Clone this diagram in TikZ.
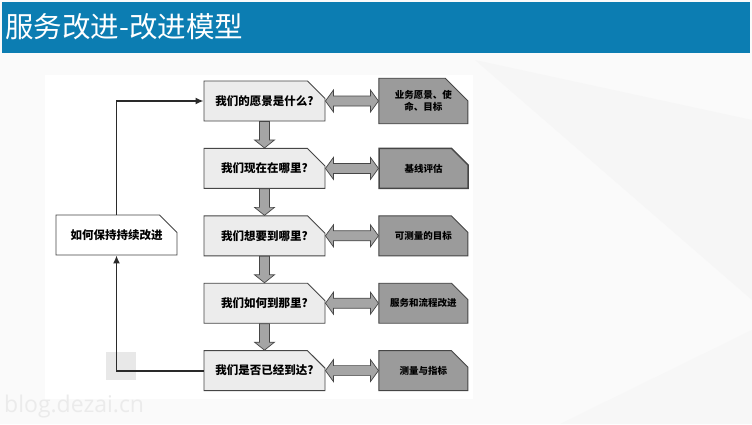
\documentclass[tikz,border=0pt]{standalone}
\usepackage{fontspec}
\newfontfamily\cjk{Noto Sans CJK SC}
\newfontfamily\wmfont{Open Sans}
\usetikzlibrary{positioning,calc,shapes.misc,arrows.meta}

\definecolor{titleblue}{RGB}{12,125,178}
\definecolor{boxgray}{RGB}{236,236,236}
\definecolor{darkbox}{RGB}{155,155,155}
\definecolor{arrowgray}{RGB}{165,165,165}
\definecolor{linegray}{RGB}{70,70,70}

\tikzset{
  question/.style={chamfered rectangle, chamfered rectangle corners=north east,
    chamfered rectangle xsep=12pt, chamfered rectangle ysep=12pt,
    draw=linegray, line width=0.9pt, fill=boxgray, minimum width=121pt,
    minimum height=40pt, inner sep=0pt, font=\cjk\bfseries\fontsize{11.5}{13}\selectfont},
  answer/.style={question, fill=darkbox, minimum width=89pt,
    font=\cjk\bfseries\fontsize{9.5}{12.5}\selectfont, align=center},
  keepbox/.style={question, fill=white},
  fatarrow/.style={draw=linegray, line width=0.7pt, fill=arrowgray, line join=miter},
  loopline/.style={draw=linegray!60!black, line width=1.8pt, -{Latex[length=8pt,width=7pt]}}
}

\begin{document}
\begin{tikzpicture}[x=1pt,y=-1pt]
  % page
  \useasboundingbox (0,0) rectangle (752,424);
  \fill[gray!4] (0,0) rectangle (752,424);
  \fill[gray!7] (475,60) -- (752,120) -- (752,300) -- cycle;
  \fill[gray!6] (560,424) -- (752,330) -- (752,424) -- cycle;
  \fill[titleblue] (2,2) rectangle (750,53);
  \node[anchor=west, text=white, inner sep=0pt, font=\cjk\fontsize{28.5}{31}\selectfont] (title) at (5,27) {服务改进-改进模型};

  % diagram panel
  \fill[white] (45,75) rectangle (473,399);
  \fill[gray!18] (106,352) rectangle (136,380);
  \node[anchor=west, text=gray!16, inner sep=0pt, font=\wmfont\fontsize{23}{26}\selectfont] (mark) at (4,407) {blog.dezai.cn};

  % questions
  \node[question] (q1) at (264.5,101) {我们的愿景是什么?};
  \node[question, below=26.5pt of q1] (q2) {我们现在在哪里?};
  \node[question, below=26.5pt of q2] (q3) {我们想要到哪里?};
  \node[question, below=26.5pt of q3] (q4) {我们如何到那里?};
  \node[question, below=26.5pt of q4] (q5) {我们是否已经到达?};

  % answers
  \node[answer, right=53pt of q1] (a1) {业务愿景、使\\命、目标};
  \node[answer, right=53pt of q2, line width=1.4pt] (a2) {基线评估};
  \node[answer, right=53pt of q3] (a3) {可测量的目标};
  \node[answer, right=53pt of q4] (a4) {服务和流程改进};
  \node[answer, right=53pt of q5] (a5) {测量与指标};

  \node[keepbox] (keep) at (116.5,235) {如何保持持续改进};

  % fat arrows
  \foreach \i [evaluate=\i as \j using int(\i+1)] in {1,...,4}
    \draw[fatarrow] ($(q\i.south)+(-5,0)$) -- ($(q\j.north)+(-5,-8)$) -- ++(-5,0)
      -- (q\j.north) -- ++(10,-8) -- ++(-5,0) -- ($(q\i.south)+(5,0)$) -- cycle;
  \foreach \i in {1,...,5}
    \draw[fatarrow] (q\i.east) -- ++(8,-11) -- ++(0,6) -- ($(a\i.west)+(-8,-5)$)
      -- ++(0,-6) -- (a\i.west) -- ++(-8,11) -- ++(0,-6) -- ($(q\i.east)+(8,5)$)
      -- ++(0,6) -- cycle;

  \draw[loopline] (q5.west) -| (keep.south);
  \draw[loopline] (keep.north) |- (q1.west);
\end{tikzpicture}
\end{document}
